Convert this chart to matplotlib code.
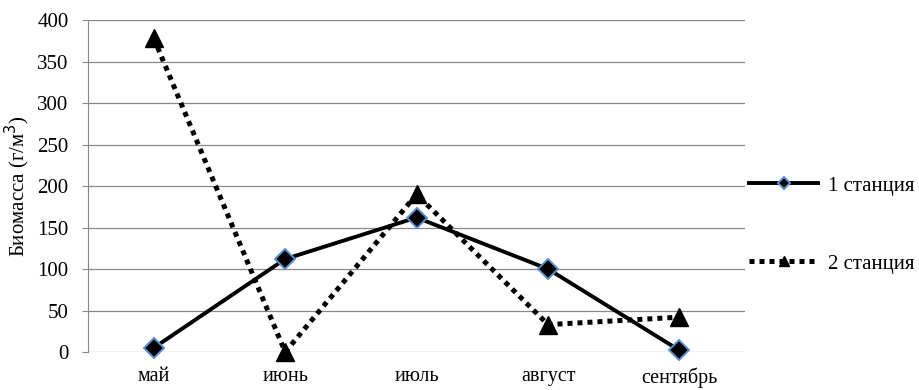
import matplotlib.pyplot as plt
import numpy as np

months = ['май', 'июнь', 'июль', 'август', 'сентябрь']
station1 = [5, 112, 162, 100, 2]
station2 = [378, 0, 190, 33, 42]

plt.rcParams['font.family'] = ['Liberation Serif', 'DejaVu Serif']

fig = plt.figure(figsize=(9.2, 3.9), dpi=100)
ax = fig.add_axes([0.0957, 0.0974, 0.7143, 0.8513])

x = np.arange(len(months))

ax.plot(x, station1, color='black', lw=2.8, marker='D', ms=10,
        mfc='black', mec='#5b8fd0', mew=1.4, label='1 станция', zorder=4,
        clip_on=False)
ax.plot(x, station2, color='black', lw=3.6, linestyle=(0, (1, 1)),
        marker='^', ms=13, mfc='black', mec='black', label='2 станция', zorder=3,
        clip_on=False)

ax.set_xlim(-0.5, len(months) - 0.5)
ax.set_ylim(0, 400)
ax.set_yticks(np.arange(0, 401, 50))
ax.set_xticks(x)
ax.set_xticklabels(months, fontsize=14.5)
ax.tick_params(axis='y', labelsize=15, length=4, pad=10, color='#888888')
ax.tick_params(axis='x', length=0, pad=11)
ax.yaxis.grid(True, color='#888888', lw=0.9)
ax.set_axisbelow(True)
for s in ['top', 'right', 'bottom']:
    ax.spines[s].set_visible(False)
ax.spines['left'].set_color('#888888')
ax.set_ylabel('Биомасса (г/м$^3$)', fontsize=15, labelpad=4)

leg = ax.legend(loc='center left', bbox_to_anchor=(1.006, 0.383), frameon=False,
                fontsize=15, handlelength=3.3, labelspacing=2.8,
                handletextpad=0.5, markerscale=0.6, borderpad=0, borderaxespad=0)

fig.savefig('out.png', dpi=100)
